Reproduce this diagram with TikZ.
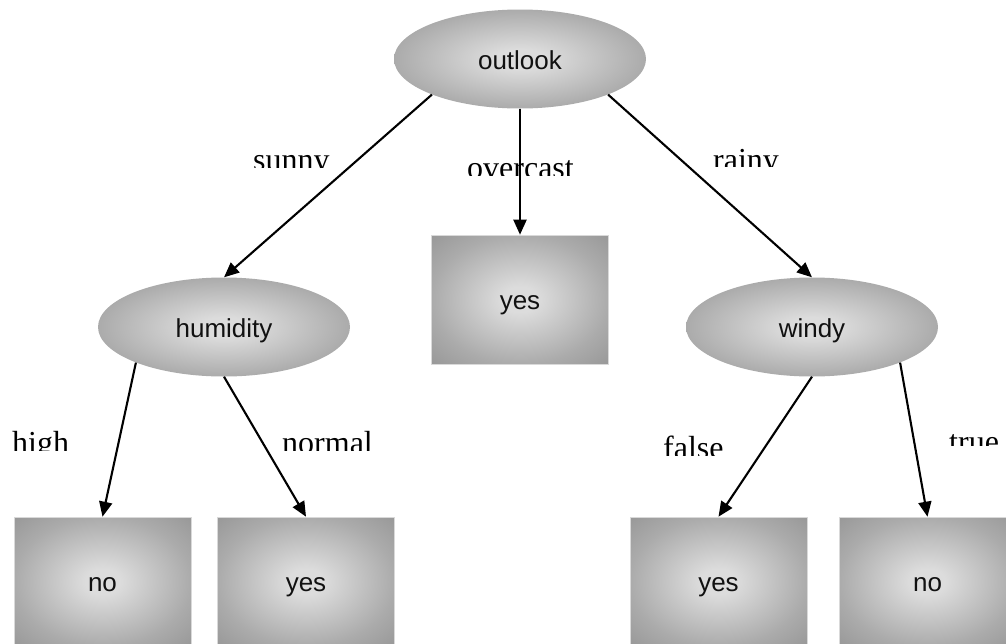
\documentclass[tikz,border=0pt]{standalone}
\usepackage{fontspec}
\setmainfont{Liberation Serif}
\newfontfamily\nodefont{Liberation Sans}
\usetikzlibrary{shapes.geometric,arrows.meta}
\definecolor{shadein}{HTML}{DCDCDC}
\definecolor{shademid}{HTML}{ABABAB}
\definecolor{shadeout}{HTML}{979797}
\definecolor{inkc}{HTML}{111111}
% light centre fading to grey edges
\pgfdeclareradialshading{greyglow}{\pgfpoint{0bp}{0bp}}{color(0bp)=(shadein); color(5bp)=(shadein); color(25bp)=(shademid); color(36bp)=(shadeout); color(50bp)=(shadeout)}
\begin{document}
\begin{tikzpicture}[x=1pt,y=-1pt,
  test/.style={ellipse, shading=greyglow, minimum width=252pt, minimum height=99pt,
    inner sep=0pt, text=inkc, font=\nodefont\fontsize{26}{26}\selectfont,
    text height=20pt, text depth=0pt},
  leaf/.style={rectangle, shading=greyglow, draw=gray!30, line width=0.6pt,
    minimum width=177pt, minimum height=129pt, inner sep=0pt, text=inkc,
    font=\nodefont\fontsize{26}{26}\selectfont, text height=20pt, text depth=0pt},
  branch/.style={font=\fontsize{32}{32}\selectfont, anchor=base west, inner sep=0pt},
  edge/.style={line width=2.1pt, -{Triangle[length=15pt,width=13pt]}}]
\clip (0,0) rectangle (1006,643);

% attribute tests
\node[test] (outlook)  at (520,59)  {outlook};
\node[test] (humidity) at (224,327) {humidity};
\node[test] (windy)    at (812,327) {windy};

% class leaves
\node[leaf] (yes1) at (520,299.5)   {yes};
\node[leaf] (no1)  at (102.5,581.5) {no};
\node[leaf] (yes2) at (306,581.5)   {yes};
\node[leaf] (yes3) at (718.5,581.5) {yes};
\node[leaf] (no3)  at (927.5,581.5) {no};

% branch values (lower edge trimmed)
\begin{scope}\clip (240,140) rectangle (345,167);
  \node[branch] (lsunny) at (253,170.5) {sunny};\end{scope}
\begin{scope}\clip (455,145) rectangle (595,175.5);
  \node[branch] (lovercast) at (467,178) {overcast};\end{scope}
\begin{scope}\clip (700,135) rectangle (795,166);
  \node[branch] (lrainy) at (713,170) {rainy};\end{scope}
\begin{scope}\clip (0,420) rectangle (80,450);
  \node[branch] (lhigh) at (12,453) {high};\end{scope}
\begin{scope}\clip (270,420) rectangle (385,450);
  \node[branch] (lnormal) at (282,453) {normal};\end{scope}
\begin{scope}\clip (650,425) rectangle (740,455);
  \node[branch] (lfalse) at (663,458) {false};\end{scope}
\begin{scope}\clip (940,425) rectangle (1006,445.5);
  \node[branch] (ltrue) at (949,452.5) {true};\end{scope}

% branches
\draw[edge] (outlook.202)  -- (humidity.north);
\draw[edge] (outlook.south) -- (yes1.north);
\draw[edge] (outlook.338)  -- (windy.north);
\draw[edge] (humidity.202) -- (no1.north);
\draw[edge] (humidity.south) -- (yes2.north);
\draw[edge] (windy.south)  -- (yes3.north);
\draw[edge] (windy.338)    -- (no3.north);
\end{tikzpicture}
\end{document}
